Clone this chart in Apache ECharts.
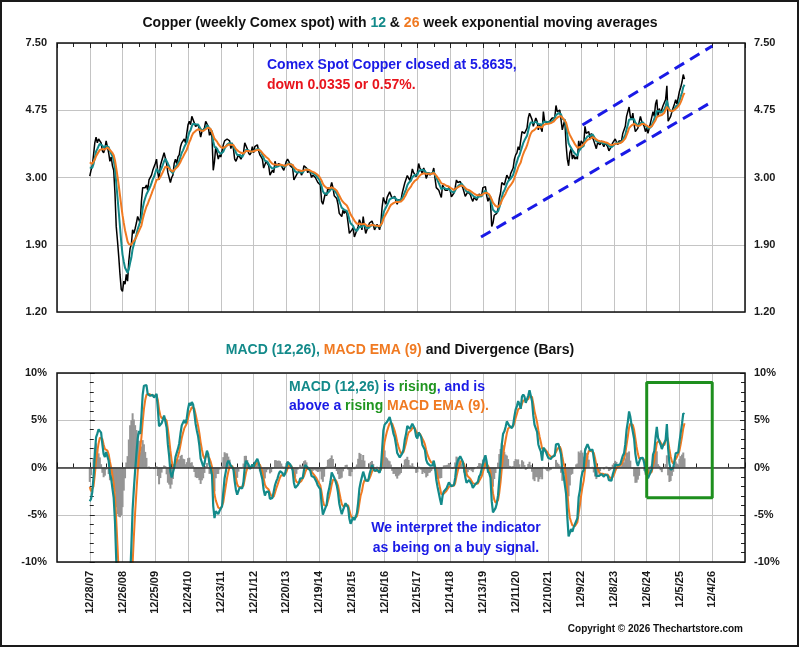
<!DOCTYPE html>
<html>
<head>
<meta charset="utf-8">
<script src="https://cdn.jsdelivr.net/npm/echarts@6/dist/echarts.min.js"></script>
<style>html,body{margin:0;padding:0;background:#fff;}#chart{width:800px;height:648px;}</style>
</head>
<body>
<div id="chart"></div>
<script>
// ---------------- data ----------------
const dateLabels = ['12/28/07','12/26/08','12/25/09','12/24/10','12/23/11','12/21/12','12/20/13','12/19/14','12/18/15','12/16/16','12/15/17','12/14/18','12/13/19','12/11/20','12/10/21','12/9/22','12/8/23','12/6/24','12/5/25','12/4/26'];
const priceTickLabels = ['1.20','1.90','3.00','4.75','7.50'];
const priceAxisMin = 1.2;
const priceAxisMax = 7.5;
const weeksPerLabel = 52;
const closeStepWeeks = 2;

// closes every 2 weeks (weeks before 12/28/07 only warm up the averages)
const warmupCloses = [3.42,3.55,3.60,3.48,3.38,3.40,3.55,3.75,3.70,3.45,3.25,3.15,3.02];
const closes2008 = [3.03,3.15,3.25,3.50,3.80,3.95,3.80,3.90,3.92,3.80,3.60,3.55,3.65,3.85,3.80,3.55,3.35,3.45,3.25,3.15,2.70,2.15,1.95,1.75,1.55,1.40];
const closes2009 = [1.38,1.48,1.45,1.55,1.48,1.70,1.85,1.90,2.10,2.05,2.12,2.20,2.30,2.30,2.20,2.55,2.80,2.80,2.80,2.85,2.75,2.95,2.95,3.05,3.15,3.15];
const closes2010 = [3.30,3.40,3.10,2.95,3.25,3.35,3.45,3.55,3.55,3.30,3.10,3.10,2.90,3.00,3.05,3.30,3.40,3.30,3.45,3.50,3.70,3.80,3.75,3.90,3.80,4.05];
const closes2011 = [4.30,4.40,4.30,4.55,4.50,4.35,4.25,4.30,4.30,4.15,3.95,4.10,4.05,4.20,4.40,4.45,4.25,4.00,4.10,3.95,3.15,3.35,3.70,3.55,3.40,3.50];
const closes2012 = [3.45,3.45,3.75,3.85,3.80,3.90,3.85,3.85,3.65,3.80,3.65,3.40,3.35,3.35,3.50,3.50,3.40,3.40,3.55,3.80,3.75,3.65,3.55,3.50,3.55,3.70];
const closes2013 = [3.55,3.70,3.65,3.75,3.60,3.50,3.45,3.40,3.20,3.20,3.35,3.30,3.25,3.05,3.10,3.15,3.10,3.35,3.25,3.25,3.30,3.30,3.25,3.20,3.15,3.25];
const closes2014 = [3.35,3.40,3.35,3.25,3.25,3.20,2.95,3.00,3.05,3.10,3.10,3.15,3.05,3.10,3.25,3.25,3.20,3.10,3.15,3.10,3.00,3.05,3.05,3.00,2.95,2.90];
const closes2015 = [2.90,2.85,2.55,2.50,2.60,2.70,2.65,2.80,2.75,2.80,2.90,2.80,2.65,2.65,2.60,2.50,2.35,2.35,2.30,2.40,2.35,2.40,2.35,2.20,2.05,2.05];
const closes2016 = [2.10,2.13,2.00,2.05,2.05,2.15,2.25,2.20,2.10,2.30,2.15,2.05,2.10,2.10,2.20,2.20,2.23,2.17,2.10,2.12,2.18,2.15,2.10,2.20,2.45,2.62];
const closes2017 = [2.55,2.50,2.62,2.65,2.72,2.70,2.60,2.60,2.64,2.56,2.50,2.58,2.56,2.57,2.70,2.72,2.89,2.91,3.04,3.00,2.94,3.03,3.18,3.10,3.10,3.02];
const closes2018 = [3.10,3.30,3.20,3.20,3.08,3.20,3.13,2.98,3.05,3.10,3.05,3.07,3.10,3.20,2.98,2.80,2.80,2.75,2.68,2.62,2.85,2.80,2.75,2.75,2.75,2.80];
const closes2019 = [2.75,2.63,2.65,2.70,2.80,2.95,2.90,2.90,2.92,2.90,2.80,2.72,2.64,2.62,2.72,2.70,2.67,2.60,2.55,2.62,2.62,2.57,2.62,2.68,2.65,2.65];
const closes2020 = [2.80,2.80,2.82,2.65,2.55,2.62,2.55,2.15,2.20,2.32,2.33,2.35,2.42,2.60,2.70,2.90,2.90,2.85,2.95,3.05,3.05,2.95,3.08,3.05,3.20,3.40];
const closes2021 = [3.50,3.55,3.70,3.62,3.62,4.10,4.05,4.05,4.00,4.20,4.50,4.65,4.60,4.45,4.25,4.30,4.50,4.40,4.15,4.30,4.30,4.10,4.70,4.40,4.40,4.35];
const closes2022 = [4.35,4.40,4.40,4.50,4.50,4.50,4.90,4.70,4.75,4.75,4.45,4.15,4.30,4.45,3.75,3.40,3.25,3.55,3.65,3.40,3.50,3.40,3.45,3.40,3.85,3.65];
const closes2023 = [3.85,3.80,3.75,4.25,4.05,4.10,4.10,3.90,4.05,4.10,3.85,3.75,3.65,3.80,3.80,3.75,3.85,3.80,3.70,3.80,3.80,3.70,3.60,3.65,3.65,3.80];
const closes2024 = [3.80,3.90,3.85,3.75,3.85,3.80,3.85,4.05,4.00,4.25,4.55,4.60,4.85,4.55,4.45,4.65,4.30,4.10,4.15,4.20,4.25,4.55,4.40,4.40,4.25,4.10];
const closes2025 = [4.20,4.05,4.10,4.35,4.30,4.70,4.55,4.95,5.10,4.55,4.80,4.65,4.65,4.90,4.85,5.10,5.60,4.40,4.45,4.55,4.70,4.75,4.95,5.10,4.95,5.00];
const closes2026 = [5.40,5.55,5.75,6.05,5.8635];

// annotation lines, in weeks from 12/28/07 and price / percent
const trendLower = [[621, 2.00], [988, 5.03]];
const trendUpper = [[782, 4.29], [988, 7.35]];
const signalBox = [[884, -3.2], [988, 9.0]];

// ---------------- build series ----------------
const closes = [].concat(warmupCloses, closes2008, closes2009, closes2010, closes2011, closes2012, closes2013,
  closes2014, closes2015, closes2016, closes2017, closes2018, closes2019, closes2020, closes2021, closes2022,
  closes2023, closes2024, closes2025, closes2026);
const firstWeek = -closeStepWeeks * warmupCloses.length;
const k12 = 1 - Math.pow(1 - 2 / 13, closeStepWeeks);
const k26 = 1 - Math.pow(1 - 2 / 27, closeStepWeeks);
const k9 = 1 - Math.pow(1 - 2 / 10, closeStepWeeks);
const priceData = [], ema12Data = [], ema26Data = [], macdData = [], signalData = [], divData = [];
let e12, e26, sg;
closes.forEach((c, i) => {
  const w = firstWeek + i * closeStepWeeks;
  if (i === 0) { e12 = c; e26 = c; } else { e12 += k12 * (c - e12); e26 += k26 * (c - e26); }
  const m = (e12 / e26 - 1) * 100;
  if (i === 0) sg = m; else sg += k9 * (m - sg);
  if (w >= 0) {
    priceData.push([w, c]);
    ema12Data.push([w, e12]);
    ema26Data.push([w, e26]);
    macdData.push([w, m]);
    signalData.push([w, sg]);
    divData.push([w, m - sg]);
  }
});
const boxData = [
  [signalBox[0][0], signalBox[0][1]], [signalBox[1][0], signalBox[0][1]],
  [signalBox[1][0], signalBox[1][1]], [signalBox[0][0], signalBox[1][1]],
  [signalBox[0][0], signalBox[0][1]]
];

// ---------------- styling ----------------
const F = '"Liberation Sans", Arial, Helvetica, sans-serif';
const TEAL = '#138a8a', ORANGE = '#f07a22', BLUE = '#1a1ae6', RED = '#e8141c', GREEN = '#1f951f', INK = '#111';
const GRIDC = '#c4c4c4';
function rs(fill, size) { return { fill: fill, fontSize: size, fontWeight: 'bold', fontFamily: F }; }
const rich = { k: rs(INK, 14), t: rs(TEAL, 14), o: rs(ORANGE, 14), b: rs(BLUE, 14), r: rs(RED, 14), g: rs(GREEN, 14) };
function txt(x, y, text, align) {
  return { type: 'text', x: x, y: y, z: 60, silent: true,
    style: { text: text, rich: rich, align: align, verticalAlign: 'middle', fontSize: 14, fontWeight: 'bold', fontFamily: F, fill: INK } };
}
const G1 = { left: 57, top: 43, w: 688, h: 269 };
const G2 = { left: 57, top: 373, w: 688, h: 189 };
const axLabel = { fontSize: 11, fontWeight: 'bold', color: '#1a1a1a', fontFamily: F };

const xCommon = {
  type: 'value', min: -weeksPerLabel, max: 20 * weeksPerLabel, interval: weeksPerLabel,
  axisLine: { show: false },
  axisTick: { show: true, inside: true, length: 5, lineStyle: { color: '#222' } },
  minorTick: { show: true, splitNumber: 2, length: 4, lineStyle: { color: '#222' } },
  splitLine: { show: true, lineStyle: { color: GRIDC, width: 1 } }
};

const option = {
  animation: false,
  backgroundColor: '#ffffff',
  textStyle: { fontFamily: F },
  grid: [
    { left: G1.left, top: G1.top, width: G1.w, height: G1.h },
    { left: G2.left, top: G2.top, width: G2.w, height: G2.h }
  ],
  xAxis: [
    Object.assign({}, xCommon, { gridIndex: 0, position: 'top', axisLabel: { show: false } }),
    Object.assign({}, xCommon, { gridIndex: 1, position: 'bottom',
      axisLabel: Object.assign({}, axLabel, { rotate: 90, margin: 9,
        formatter: v => { const i = Math.round(v / weeksPerLabel); return (i >= 0 && i < dateLabels.length) ? dateLabels[i] : ''; } }) })
  ],
  yAxis: [
    { type: 'log', logBase: 10, gridIndex: 0, min: priceAxisMin, max: priceAxisMax, show: false },
    { type: 'category', gridIndex: 0, position: 'left', data: priceTickLabels, boundaryGap: false,
      axisLine: { show: false }, axisTick: { show: false },
      axisLabel: Object.assign({}, axLabel, { margin: 10 }),
      splitLine: { show: true, lineStyle: { color: GRIDC } } },
    { type: 'category', gridIndex: 0, position: 'right', data: priceTickLabels, boundaryGap: false,
      axisLine: { show: false }, axisTick: { show: false },
      axisLabel: Object.assign({}, axLabel, { margin: 9 }), splitLine: { show: false } },
    { type: 'value', gridIndex: 1, position: 'left', min: -10, max: 10, interval: 5,
      axisLine: { show: false },
      axisTick: { show: true, inside: true, length: 5, lineStyle: { color: '#222' } },
      minorTick: { show: true, splitNumber: 5, length: 4, lineStyle: { color: '#222' } },
      axisLabel: Object.assign({}, axLabel, { margin: 10, formatter: '{value}%' }),
      splitLine: { show: true, lineStyle: { color: GRIDC } } },
    { type: 'value', gridIndex: 1, position: 'right', min: -10, max: 10, interval: 5,
      axisLine: { show: false },
      axisTick: { show: true, inside: true, length: 5, lineStyle: { color: '#222' } },
      minorTick: { show: true, splitNumber: 5, length: 4, lineStyle: { color: '#222' } },
      axisLabel: Object.assign({}, axLabel, { margin: 9, formatter: '{value}%' }),
      splitLine: { show: false } }
  ],
  series: [
    { name: 'Copper', type: 'line', xAxisIndex: 0, yAxisIndex: 0, data: priceData, showSymbol: false,
      lineStyle: { color: '#000', width: 1.5 }, z: 2 },
    { name: 'EMA 12', type: 'line', xAxisIndex: 0, yAxisIndex: 0, data: ema12Data, showSymbol: false,
      lineStyle: { color: TEAL, width: 2 }, z: 3 },
    { name: 'EMA 26', type: 'line', xAxisIndex: 0, yAxisIndex: 0, data: ema26Data, showSymbol: false,
      lineStyle: { color: ORANGE, width: 2 }, z: 4 },
    { name: 'Lower trend', type: 'line', xAxisIndex: 0, yAxisIndex: 0, data: trendLower, showSymbol: false,
      lineStyle: { color: BLUE, width: 3, type: [11, 7] }, z: 5 },
    { name: 'Upper trend', type: 'line', xAxisIndex: 0, yAxisIndex: 0, data: trendUpper, showSymbol: false,
      lineStyle: { color: BLUE, width: 3, type: [11, 7] }, z: 5 },
    { name: 'Divergence', type: 'bar', xAxisIndex: 1, yAxisIndex: 3, data: divData, barWidth: 2,
      itemStyle: { color: '#959595' }, z: 1,
      markLine: { silent: true, symbol: 'none', label: { show: false },
        lineStyle: { color: '#333', width: 1.5, type: 'solid' }, data: [{ yAxis: 0 }] } },
    { name: 'MACD EMA (9)', type: 'line', xAxisIndex: 1, yAxisIndex: 3, data: signalData, showSymbol: false,
      lineStyle: { color: ORANGE, width: 2 }, z: 3 },
    { name: 'MACD (12,26)', type: 'line', xAxisIndex: 1, yAxisIndex: 3, data: macdData, showSymbol: false,
      lineStyle: { color: TEAL, width: 2.2 }, z: 4 },
    { name: 'Signal box', type: 'line', xAxisIndex: 1, yAxisIndex: 3, data: boxData, showSymbol: false,
      lineStyle: { color: '#1e8f1e', width: 3 }, z: 5 }
  ],
  graphic: [
    { type: 'rect', z: 100, silent: true, shape: { x: 1, y: 1, width: 797, height: 645 },
      style: { fill: null, stroke: '#1a1a1a', lineWidth: 2 } },
    { type: 'rect', z: 90, silent: true, shape: { x: G1.left, y: G1.top, width: G1.w, height: G1.h },
      style: { fill: null, stroke: '#111', lineWidth: 1.5 } },
    { type: 'rect', z: 90, silent: true, shape: { x: G2.left, y: G2.top, width: G2.w, height: G2.h },
      style: { fill: null, stroke: '#111', lineWidth: 1.5 } },
    txt(400, 23, '{k|Copper (weekly Comex spot) with }{t|12}{k| & }{o|26}{k| week exponential moving averages}', 'center'),
    txt(400, 350, '{t|MACD (12,26),}{k| }{o|MACD EMA (9)}{k| and Divergence (Bars)}', 'center'),
    txt(267, 65, '{b|Comex Spot Copper closed at 5.8635,}', 'left'),
    txt(267, 85, '{r|down 0.0335 or 0.57%.}', 'left'),
    txt(387, 387, '{t|MACD (12,26)}{b| is }{g|rising}{b|, and is}', 'center'),
    txt(389, 406, '{b|above a }{g|rising}{o| MACD EMA (9).}', 'center'),
    txt(456, 528, '{b|We interpret the indicator}', 'center'),
    txt(456, 548, '{b|as being on a buy signal.}', 'center'),
    { type: 'text', x: 743, y: 629, z: 60, silent: true,
      style: { text: 'Copyright \u00a9 2026 Thechartstore.com', align: 'right', verticalAlign: 'middle',
        fontSize: 10, fontWeight: 'bold', fontFamily: F, fill: INK } }
  ]
};

const chart = echarts.init(document.getElementById('chart'), null, { renderer: 'canvas' });
chart.setOption(option);
</script>
</body>
</html>
